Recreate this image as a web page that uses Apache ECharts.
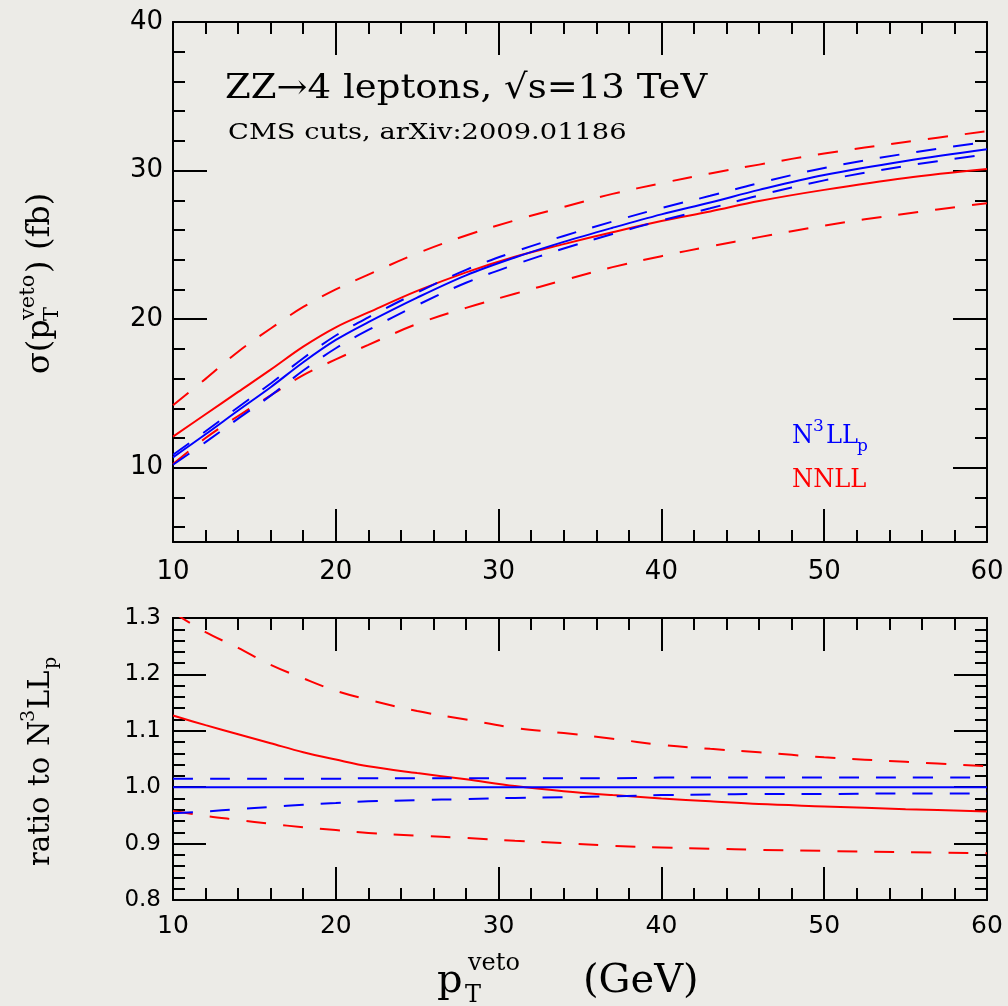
<!DOCTYPE html>
<html><head><meta charset="utf-8">
<script src="https://cdn.jsdelivr.net/npm/echarts@6/dist/echarts.min.js"></script>
<style>html,body{margin:0;padding:0;background:#ecebe7}#c{width:1008px;height:1006px}</style>
</head><body><div id="c"></div>
<script>
// ---- data ----
const xVals = [10,12,14,16,18,20,22,25,28,31,34,37,40,43,46,50,55,60];
// top panel: sigma(pT veto) in fb
const n3llCentral = [10.7,12.25,13.85,15.42,17.1,18.6,19.8,21.45,22.95,24.15,25.2,26.15,27.05,27.85,28.7,29.7,30.65,31.44];
const n3llUpper   = [10.87,12.45,14.07,15.67,17.37,18.9,20.12,21.79,23.32,24.54,25.6,26.57,27.48,28.3,29.16,30.18,31.14,31.94];
const n3llLower   = [10.2,11.72,13.3,14.85,16.54,18.04,19.27,20.94,22.45,23.67,24.75,25.73,26.64,27.46,28.33,29.34,30.31,31.1];
const nnllCentral = [12.09,13.6,15.1,16.6,18.15,19.45,20.45,21.9,23.15,24.2,25.05,25.85,26.6,27.25,27.95,28.7,29.5,30.1];
const nnllUpper   = [14.2,15.98,17.81,19.37,20.82,22.0,23.0,24.43,25.63,26.65,27.55,28.43,29.15,29.81,30.4,31.15,31.92,32.65];
const nnllLower   = [10.25,12.0,13.48,14.87,16.23,17.29,18.27,19.68,20.76,21.71,22.62,23.5,24.24,24.9,25.52,26.3,27.1,27.8];
// bottom panel: ratio to N3LLp
const ratioN3llCentral = [1,1,1,1,1,1,1,1,1,1,1,1,1,1,1,1,1,1];
const ratioN3llUpper   = [1.015,1.015,1.015,1.015,1.015,1.015,1.016,1.016,1.016,1.016,1.016,1.016,1.017,1.017,1.017,1.017,1.017,1.017];
const ratioN3llLower   = [0.954,0.957,0.961,0.965,0.969,0.972,0.975,0.977,0.979,0.981,0.982,0.984,0.986,0.987,0.988,0.988,0.989,0.989];
const ratioNnllCentral = [1.127,1.11,1.094,1.078,1.062,1.049,1.037,1.025,1.014,1.002,0.993,0.986,0.98,0.975,0.97,0.966,0.961,0.957];
const ratioNnllUpper   = [1.31,1.275,1.247,1.217,1.193,1.171,1.155,1.135,1.12,1.105,1.096,1.086,1.075,1.068,1.062,1.053,1.045,1.037];
const ratioNnllLower   = [0.958,0.949,0.942,0.935,0.929,0.924,0.919,0.914,0.910,0.905,0.901,0.896,0.893,0.891,0.889,0.887,0.885,0.883];
// ticks
const xTicks = [10,20,30,40,50,60];
const topYMajor = [10,20,30,40];
const topYMinor = [6,8,12,14,16,18,22,24,26,28,32,34,36,38];
const bottomYTicks = [0.8,0.9,1.0,1.1,1.2,1.3];

const RED = '#ff0000', BLUE = '#0000ff';
const SERIF = '"DejaVu Serif", serif';
const SANS = '"DejaVu Sans", sans-serif';
const black2 = {color:'#000', width:2};

function pairs(ys){ return xVals.map((x,i)=>[x, ys[i]]); }
function line(name, ys, color, dashed, xi, yi, z){
  return {type:'line', name, xAxisIndex:xi, yAxisIndex:yi, data:pairs(ys),
    showSymbol:false, symbol:'none', smooth:0.35, clip:true, z:z||2,
    lineStyle:{color, width:2, type: dashed ? [20,17] : 'solid', cap:'butt'}};
}
function xAx(grid, pos, labels, margin, fs){
  return {type:'value', gridIndex:grid, position:pos, min:10, max:60, interval:10,
    axisLine:{show:true, onZero:false, lineStyle:black2},
    axisTick:{show:true, inside:true, length:33, lineStyle:black2},
    minorTick:{show:true, splitNumber:5, length:12, lineStyle:black2},
    splitLine:{show:false}, minorSplitLine:{show:false},
    axisLabel:{show:labels, margin, color:'#000', fontSize:fs||25, fontFamily:SANS}};
}
function yTop(pos, ticks, len, labels, lineShow){
  return {type:'value', gridIndex:0, position:pos, min:5, max:40,
    axisLine:{show:lineShow, onZero:false, lineStyle:black2},
    axisTick:{show:true, inside:true, length:len, lineStyle:black2, customValues:ticks},
    splitLine:{show:false},
    axisLabel:{show:labels, customValues:ticks, margin:10, color:'#000', fontSize:26, fontFamily:SANS}};
}
function yBot(pos, labels){
  return {type:'value', gridIndex:1, position:pos, min:0.8, max:1.3, interval:0.1,
    axisLine:{show:true, onZero:false, lineStyle:black2},
    axisTick:{show:true, inside:true, length:33, lineStyle:black2},
    minorTick:{show:true, splitNumber:5, length:12, lineStyle:black2},
    splitLine:{show:false}, minorSplitLine:{show:false},
    axisLabel:{show:labels, margin:12, color:'#000', fontSize:23, fontFamily:SANS,
      formatter:v=>v.toFixed(1)}};
}
function T(x, base, s, size, color, sx){
  return {type:'text', x, y: base - 0.34*size, scaleX: sx||1, style:{text:s, font:size+'px '+SERIF,
    fill:color||'#000', textAlign:'left', textVerticalAlign:'middle'}};
}

const option = {
  backgroundColor:'#ecebe7',
  animation:false,
  grid:[
    {left:173, top:22, width:814, height:520},
    {left:173, top:618, width:814, height:282}
  ],
  xAxis:[ xAx(0,'bottom',true,17,26), xAx(0,'top',false,0), xAx(1,'bottom',true,14,25), xAx(1,'top',false,0) ],
  yAxis:[
    yTop('left', topYMajor, 34, true, true),
    yTop('left', topYMinor, 12, false, false),
    yTop('right', topYMajor, 34, false, true),
    yTop('right', topYMinor, 12, false, false),
    yBot('left', true), yBot('right', false)
  ],
  series:[
    line('NNLL', nnllCentral, RED, false, 0, 0, 2),
    line('NNLL up', nnllUpper, RED, true, 0, 0, 2),
    line('NNLL down', nnllLower, RED, true, 0, 0, 2),
    line('N3LLp', n3llCentral, BLUE, false, 0, 0, 3),
    line('N3LLp up', n3llUpper, BLUE, true, 0, 0, 3),
    line('N3LLp down', n3llLower, BLUE, true, 0, 0, 3),
    line('r NNLL', ratioNnllCentral, RED, false, 2, 4, 2),
    line('r NNLL up', ratioNnllUpper, RED, true, 2, 4, 2),
    line('r NNLL down', ratioNnllLower, RED, true, 2, 4, 2),
    line('r N3LLp', ratioN3llCentral, BLUE, false, 2, 4, 3),
    line('r N3LLp up', ratioN3llUpper, BLUE, true, 2, 4, 3),
    line('r N3LLp down', ratioN3llLower, BLUE, true, 2, 4, 3)
  ],
  graphic:[
    T(225, 101, 'ZZ\u21924 leptons, \u221as=13 TeV', 34, '#000', 1.09),
    T(228, 141, 'CMS cuts, arXiv:2009.01186', 21.5, '#000', 1.27),
    // legend
    T(792, 445, 'N', 26, BLUE, 0.93), T(813, 432, '3', 17, BLUE), T(826, 445, 'LL', 26, BLUE, 0.93), T(857, 452, 'p', 17, BLUE),
    T(792, 489, 'NNLL', 26, RED, 0.93),
    // x title
    T(437, 995, 'p', 40), T(465, 1004, 'T', 24), T(468, 972, 'veto', 24), T(583, 995, '(GeV)', 40),
    // top y title (rotated)
    {type:'group', x:52, y:374, rotation:Math.PI/2, children:[
      T(0, 0, '\u03c3(p', 32), T(53, 8, 'T', 21), T(54, -16, 'veto', 21), T(101, 0, ')', 32), T(124, 0, '(fb)', 32)
    ]},
    // bottom y title (rotated)
    {type:'group', x:51, y:866, rotation:Math.PI/2, children:[
      T(0, 0, 'ratio', 29), T(80, 0, 'to', 29), T(120, 0, 'N', 29), T(144, -15, '3', 19), T(157, 0, 'LL', 29), T(197, 7, 'p', 19)
    ]}
  ]
};
echarts.init(document.getElementById('c')).setOption(option);
</script></body></html>
